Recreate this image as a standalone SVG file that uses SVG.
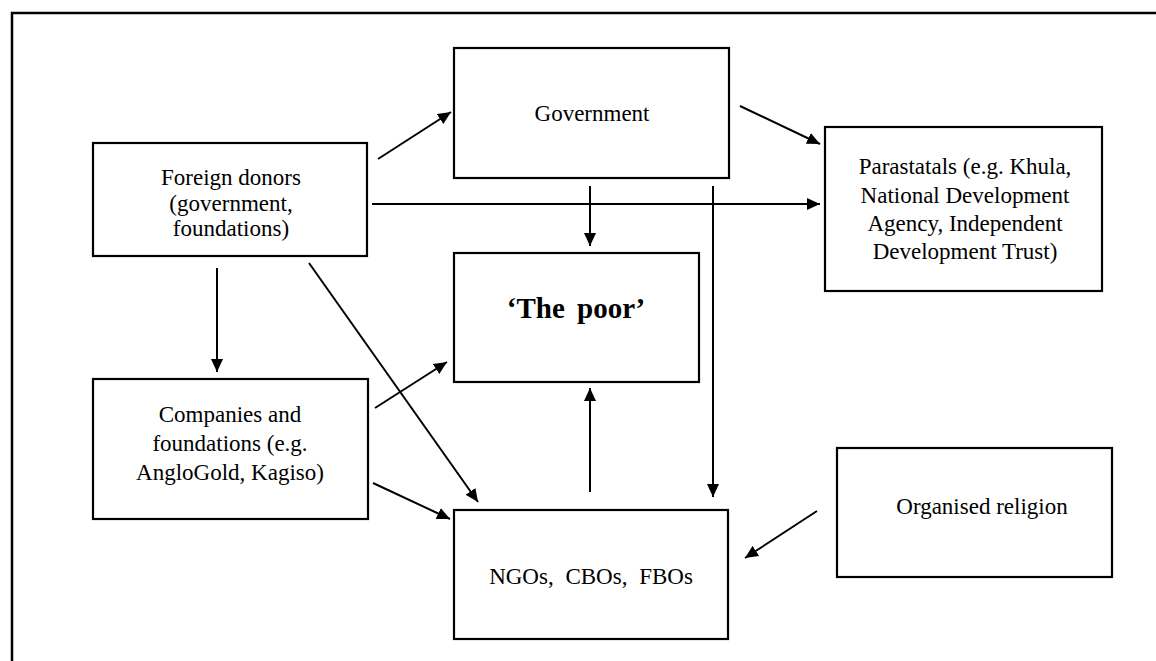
<svg xmlns="http://www.w3.org/2000/svg" width="1156" height="661" viewBox="0 0 1156 661">
<style>
.box{fill:#fff;stroke:#000;stroke-width:2.2}
.t{font-family:"Liberation Serif","Times New Roman",serif;font-size:23px;fill:#000;text-anchor:middle}
.b{font-weight:bold;font-size:29px}
.c{stroke:#000;stroke-width:2;fill:none;marker-end:url(#ah)}
</style>
<defs>
<marker id="ah" markerUnits="userSpaceOnUse" markerWidth="14" markerHeight="12" refX="13" refY="6" orient="auto">
<path d="M0,0 L13,6 L0,12 Z" fill="#000"/>
</marker>
</defs>
<rect width="1156" height="661" fill="#fff"/>
<path d="M12,661 V13 H1156" fill="none" stroke="#000" stroke-width="2.5"/>
<g id="foreign">
<rect class="box" x="93" y="143" width="274" height="113"/>
<text class="t" x="231" y="185">Foreign donors</text>
<text class="t" x="231" y="211">(government,</text>
<text class="t" x="231" y="236">foundations)</text>
</g>
<g id="government">
<rect class="box" x="454" y="48" width="275" height="130"/>
<text class="t" x="592" y="121">Government</text>
</g>
<g id="parastatals">
<rect class="box" x="825" y="127" width="277" height="164"/>
<text class="t" x="965" y="174">Parastatals (e.g. Khula,</text>
<text class="t" x="965" y="203">National Development</text>
<text class="t" x="965" y="231">Agency, Independent</text>
<text class="t" x="965" y="259">Development Trust)</text>
</g>
<g id="poor">
<rect class="box" x="454" y="253" width="245" height="129"/>
<text class="t b" x="576" y="318" word-spacing="5">‘The poor’</text>
</g>
<g id="companies">
<rect class="box" x="93" y="379" width="275" height="140"/>
<text class="t" x="230" y="422">Companies and</text>
<text class="t" x="230" y="451">foundations (e.g.</text>
<text class="t" x="230" y="480">AngloGold, Kagiso)</text>
</g>
<g id="ngos">
<rect class="box" x="454" y="510" width="274" height="129"/>
<text class="t" x="591" y="584" word-spacing="6">NGOs, CBOs, FBOs</text>
</g>
<g id="religion">
<rect class="box" x="837" y="448" width="275" height="129"/>
<text class="t" x="982" y="514">Organised religion</text>
</g>
<g id="connectors">
<line class="c" x1="378" y1="159" x2="451" y2="112"/>
<line class="c" x1="740" y1="106" x2="820" y2="144"/>
<line class="c" x1="372" y1="204" x2="820" y2="204"/>
<line class="c" x1="590" y1="186" x2="590" y2="246"/>
<line class="c" x1="713" y1="186" x2="713" y2="497"/>
<line class="c" x1="217" y1="268" x2="217" y2="372"/>
<line class="c" x1="309" y1="263" x2="478" y2="502"/>
<line class="c" x1="375" y1="408" x2="447" y2="362"/>
<line class="c" x1="373" y1="483" x2="450" y2="519"/>
<line class="c" x1="590" y1="492" x2="590" y2="388"/>
<line class="c" x1="817" y1="511" x2="745" y2="558"/>
</g>
</svg>
